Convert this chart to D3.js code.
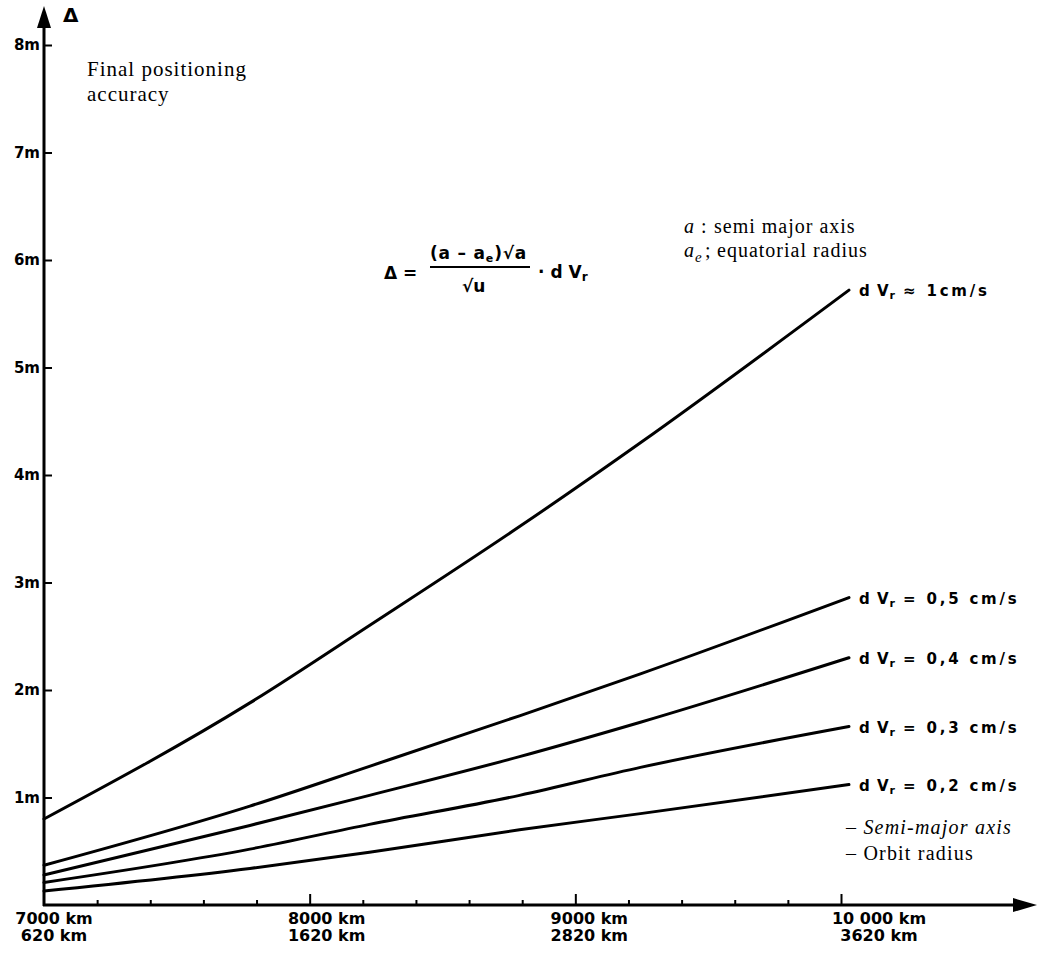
<!DOCTYPE html>
<html><head><meta charset="utf-8">
<script src="https://cdn.jsdelivr.net/npm/d3@7"></script>
<style>
html,body{margin:0;padding:0;background:#fff;}
svg{display:block;}
.tk{font-family:"DejaVu Sans",sans-serif;font-weight:bold;fill:#000;}
.serif{font-family:"Liberation Serif","DejaVu Serif",serif;fill:#000;}
</style>
</head><body>
<svg id="c" width="1052" height="953"></svg>
<script>
// ---- data ----
const semiMajorKm = [7000, 7775, 8225, 8790, 9245, 10030];
const dv1_0 = [0.80, 1.88, 2.60, 3.52, 4.30, 5.72];
const dv0_5 = [0.37, 0.92, 1.29, 1.76, 2.15, 2.86];
const dv0_4 = [0.28, 0.74, 1.02, 1.38, 1.70, 2.30];
const dv0_3 = [0.21, 0.52, 0.75, 1.02, 1.28, 1.66];
const dv0_2 = [0.13, 0.34, 0.49, 0.70, 0.85, 1.12];
const seriesLabels = ["1cm/s", "0,5 cm/s", "0,4 cm/s", "0,3 cm/s", "0,2 cm/s"];
const seriesSeps = [" \u2248 ", " = ", " = ", " = ", " = "];
const yTickValues = [1, 2, 3, 4, 5, 6, 7, 8];
const yTickLabels = ["1m", "2m", "3m", "4m", "5m", "6m", "7m", "8m"];
const xMajorTicks = [7000, 8000, 9000, 10000];
const xLabelTop = ["7000 km", "8000 km", "9000 km", "10 000 km"];
const xLabelBottom = ["620 km", "1620 km", "2820 km", "3620 km"];
const xMinorTicks = [7200, 7400, 7600, 7800, 8200, 8400, 8600, 8800, 9200, 9400, 9600, 9800];

const series = [dv1_0, dv0_5, dv0_4, dv0_3, dv0_2];

const svg = d3.select("#c");
const x = d3.scaleLinear().domain([7000, 10000]).range([44, 841]);
const y = d3.scaleLinear().domain([0, 8]).range([905, 45]);

// ---- y axis ----
const yAx = svg.append("g").attr("transform", `translate(${x(7000)},0)`)
  .call(d3.axisLeft(y).tickValues(yTickValues).tickSize(-8).tickPadding(4)
    .tickFormat((d, i) => yTickLabels[i]));
yAx.select(".domain").remove();
yAx.selectAll("line").attr("stroke", "#000").attr("stroke-width", 2);
yAx.selectAll("text").attr("class", "tk").attr("font-size", 15).attr("fill", "#000")
  .attr("font-family", null);

// ---- x axis ----
const xAx = svg.append("g").attr("transform", `translate(0,${y(0)})`)
  .call(d3.axisBottom(x).tickValues(xMajorTicks).tickSize(-11).tickFormat(""));
xAx.select(".domain").remove();
xAx.selectAll("line").attr("stroke", "#000").attr("stroke-width", 2);
xAx.selectAll(".tick").filter(d => d === 7000).select("line").remove();
const xMin = svg.append("g").attr("transform", `translate(0,${y(0)})`)
  .call(d3.axisBottom(x).tickValues(xMinorTicks).tickSize(-5).tickFormat(""));
xMin.select(".domain").remove();
xMin.selectAll("line").attr("stroke", "#000").attr("stroke-width", 2);

const labOff = [10, 17, 14, 38];
xMajorTicks.forEach((v, i) => {
  const t = svg.append("text").attr("class", "tk").attr("font-size", 16)
    .attr("text-anchor", "middle").attr("x", x(v) + labOff[i]);
  t.append("tspan").attr("x", x(v) + labOff[i]).attr("y", y(0) + 19).text(xLabelTop[i]);
  t.append("tspan").attr("x", x(v) + labOff[i]).attr("y", y(0) + 36).text(xLabelBottom[i]);
});

// axis lines with arrows
const x0 = x(7000), y0 = y(0);
svg.append("line").attr("x1", x0).attr("y1", y0 + 1).attr("x2", x0).attr("y2", 20)
  .attr("stroke", "#000").attr("stroke-width", 3);
svg.append("path").attr("d", `M${x0},6 L${x0 - 7},28 L${x0 + 7},28 Z`).attr("fill", "#000");
svg.append("line").attr("x1", x0 - 1).attr("y1", y0).attr("x2", 1020).attr("y2", y0)
  .attr("stroke", "#000").attr("stroke-width", 3);
svg.append("path").attr("d", `M1037,${y0} L1013,${y0 - 7} L1013,${y0 + 7} Z`).attr("fill", "#000");

svg.append("text").attr("class", "tk").attr("font-size", 20).attr("x", 63).attr("y", 22).text("\u0394");

// ---- lines ----
const line = d3.line().x((d, i) => x(semiMajorKm[i])).y(d => y(d)).curve(d3.curveMonotoneX);
series.forEach((s, k) => {
  svg.append("path").datum(s).attr("d", line).attr("fill", "none")
    .attr("stroke", "#000").attr("stroke-width", 3).attr("stroke-linecap", "round");
  const ex = x(semiMajorKm[semiMajorKm.length - 1]) + 10;
  const ey = y(s[s.length - 1]);
  const t = svg.append("text").attr("class", "tk").attr("font-size", 15)
    .attr("x", ex).attr("y", ey + 6);
  t.append("tspan").attr("letter-spacing", 1).text("d V");
  t.append("tspan").attr("font-size", 11).attr("dy", 3).text("r");
  t.append("tspan").attr("dy", -3).attr("letter-spacing", 2.8).text(seriesSeps[k] + seriesLabels[k]);
});

// ---- texts ----
svg.append("text").attr("class", "serif").attr("font-size", 21).attr("letter-spacing", 1)
  .attr("x", 87).attr("y", 76).text("Final positioning");
svg.append("text").attr("class", "serif").attr("font-size", 21).attr("letter-spacing", 1)
  .attr("x", 87).attr("y", 101).text("accuracy");

const lg1 = svg.append("text").attr("class", "serif").attr("font-size", 20).attr("letter-spacing", 1)
  .attr("x", 684).attr("y", 233);
lg1.append("tspan").attr("font-style", "italic").text("a");
lg1.append("tspan").attr("x", 701).text(":");
lg1.append("tspan").attr("x", 714).text("semi major axis");
const lg2 = svg.append("text").attr("class", "serif").attr("font-size", 20).attr("letter-spacing", 1)
  .attr("x", 684).attr("y", 257);
lg2.append("tspan").attr("font-style", "italic").text("a");
lg2.append("tspan").attr("font-style", "italic").attr("font-size", 15).attr("dy", 5).text("e");
lg2.append("tspan").attr("dy", -5).attr("x", 705).text(";");
lg2.append("tspan").attr("x", 717).text("equatorial radius");

const ax1 = svg.append("text").attr("class", "serif").attr("font-size", 20).attr("letter-spacing", 1.2)
  .attr("x", 846).attr("y", 834);
ax1.append("tspan").text("\u2013 ");
ax1.append("tspan").attr("font-style", "italic").text("Semi-major axis");
svg.append("text").attr("class", "serif").attr("font-size", 20).attr("letter-spacing", 1.2)
  .attr("x", 846).attr("y", 860).text("\u2013 Orbit radius");

// formula
const f = svg.append("g");
f.append("text").attr("class", "tk").attr("font-size", 17).attr("x", 384).attr("y", 279).text("\u0394 =");
const num = f.append("text").attr("class", "tk").attr("font-size", 17).attr("letter-spacing", 0.8)
  .attr("x", 430).attr("y", 259);
num.append("tspan").text("(a \u2013 a");
num.append("tspan").attr("font-size", 11).attr("dy", 3).text("e");
num.append("tspan").attr("dy", -3).text(")\u221Aa");
f.append("line").attr("x1", 430).attr("x2", 530).attr("y1", 267).attr("y2", 267)
  .attr("stroke", "#000").attr("stroke-width", 2);
f.append("text").attr("class", "tk").attr("font-size", 17).attr("x", 462).attr("y", 292).text("\u221Au");
const dv = f.append("text").attr("class", "tk").attr("font-size", 17).attr("x", 538).attr("y", 278);
dv.append("tspan").text("\u00B7  d V");
dv.append("tspan").attr("font-size", 12).attr("dy", 3).text("r");
</script>
</body></html>
